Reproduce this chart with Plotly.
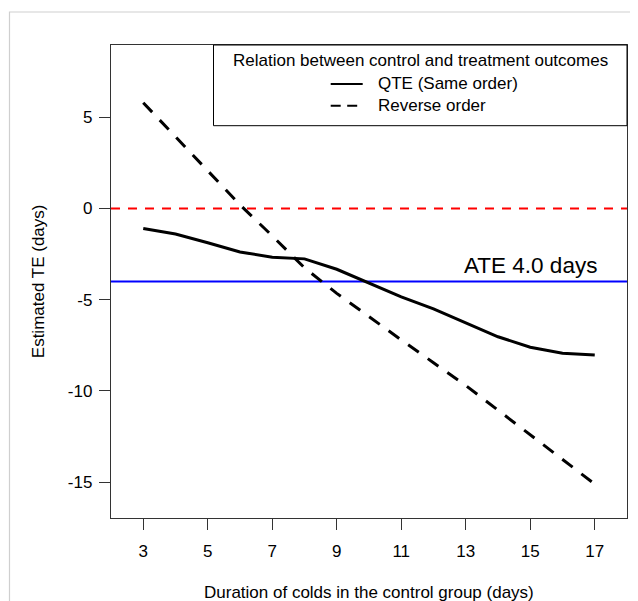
import plotly.graph_objects as go

# ---- data ----
duration = [3, 4, 5, 6, 7, 8, 9, 10, 11, 12, 13, 14, 15, 16, 17]
qte_same_order = [-1.10, -1.40, -1.88, -2.38, -2.67, -2.76, -3.33, -4.09,
                  -4.84, -5.50, -6.25, -7.03, -7.60, -7.93, -8.03]
reverse_order = [5.80, 3.95, 2.10, 0.20, -1.50, -3.25, -4.65, -5.95,
                 -7.20, -8.45, -9.70, -11.05, -12.40, -13.75, -15.10]
zero_line = 0
ate = -4.0
ate_label = "ATE 4.0 days"
x_ticks = [3, 5, 7, 9, 11, 13, 15, 17]
y_ticks = [-15, -10, -5, 0, 5]
legend_title = "Relation between control and treatment outcomes"
legend_labels = ["QTE (Same order)", "Reverse order"]

FONT = "Liberation Sans, Arial, Helvetica, sans-serif"
OFF = 8  # page body margin: figure is drawn at (8, 8) in the window
W, H = 638 - OFF, 601 - OFF
ML, MR, MT, MB = 111 - OFF, 11, 45 - OFF, 83
PW, PH = W - ML - MR, H - MT - MB


def px(xp):
    """window x pixel -> paper coordinate"""
    return (xp - OFF - ML) / PW


def py(yp):
    """window y pixel -> paper coordinate"""
    return (H - MB - (yp - OFF)) / PH


fig = go.Figure()

fig.add_trace(go.Scatter(x=[2, 18], y=[zero_line, zero_line], mode="lines",
                         line=dict(color="#ff0000", width=2, dash="9px,8px"),
                         showlegend=False, hoverinfo="skip"))
fig.add_trace(go.Scatter(x=[2, 18], y=[ate, ate], mode="lines",
                         line=dict(color="#0000ff", width=2),
                         showlegend=False, hoverinfo="skip"))
fig.add_trace(go.Scatter(x=duration, y=qte_same_order, mode="lines",
                         name=legend_labels[0],
                         line=dict(color="black", width=3)))
fig.add_trace(go.Scatter(x=duration, y=reverse_order, mode="lines",
                         name=legend_labels[1],
                         line=dict(color="black", width=3, dash="13px,11px")))

shapes = [
    # outer light frame
    dict(type="rect", xref="paper", yref="paper", x0=px(9.5), x1=px(700),
         y0=py(700), y1=py(12), line=dict(color="#cfcfcf", width=1.2),
         layer="below"),
    # legend box
    dict(type="rect", xref="paper", yref="paper", x0=px(213.5), x1=1,
         y0=py(125.7), y1=1, line=dict(color="black", width=1),
         fillcolor="white", layer="above"),
    # legend samples
    dict(type="line", xref="paper", yref="paper", x0=px(330.7), x1=px(362.7),
         y0=py(84), y1=py(84), line=dict(color="black", width=2),
         layer="above"),
    dict(type="line", xref="paper", yref="paper", x0=px(330.7), x1=px(362.7),
         y0=py(105.7), y1=py(105.7),
         line=dict(color="black", width=2, dash="10px,6.5px"), layer="above"),
]

annotations = [
    dict(text=legend_title, xref="paper", yref="paper", x=px(420.8),
         y=py(60.0), xanchor="center", yanchor="middle", showarrow=False,
         font=dict(size=17, color="black", family=FONT)),
    dict(text=legend_labels[0], xref="paper", yref="paper", x=px(375.7),
         y=py(83.3), xanchor="left", yanchor="middle", showarrow=False,
         font=dict(size=17, color="black", family=FONT)),
    dict(text=legend_labels[1], xref="paper", yref="paper", x=px(375.7),
         y=py(105.3), xanchor="left", yanchor="middle", showarrow=False,
         font=dict(size=17, color="black", family=FONT)),
    dict(text=ate_label, x=15, y=ate, xref="x", yref="y", xanchor="center",
         yanchor="middle", yshift=281.7 - 265.7, showarrow=False,
         font=dict(size=22.5, color="black", family=FONT)),
    dict(text="Duration of colds in the control group (days)", xref="paper",
         yref="paper", x=0.5, y=py(592), xanchor="center", yanchor="middle",
         showarrow=False, font=dict(size=17, color="black", family=FONT)),
    dict(text="Estimated TE (days)", xref="paper", yref="paper", x=px(38.7),
         y=0.5, xanchor="center", yanchor="middle", textangle=-90,
         showarrow=False, font=dict(size=17, color="black", family=FONT)),
]

fig.update_layout(
    width=W, height=H,
    margin=dict(l=ML, r=MR, t=MT, b=MB, autoexpand=False),
    paper_bgcolor="white", plot_bgcolor="white",
    showlegend=False,
    font=dict(family=FONT, size=17, color="black"),
    shapes=shapes, annotations=annotations,
    xaxis=dict(range=[2, 18], tickvals=x_ticks, ticktext=[str(v) for v in x_ticks],
               showgrid=False, zeroline=False, showline=True, mirror=True,
               linecolor="#333333", linewidth=1.3, ticks="outside", ticklen=11,
               tickwidth=1, tickcolor="#333333", ticklabelstandoff=6,
               tickfont=dict(size=17, color="black", family=FONT)),
    yaxis=dict(range=[-16.96, 8.96], tickvals=y_ticks, ticktext=[str(v) for v in y_ticks],
               showgrid=False, zeroline=False, showline=True, mirror=True,
               linecolor="#333333", linewidth=1.3, ticks="outside", ticklen=11,
               tickwidth=1, tickcolor="#333333", ticklabelstandoff=3,
               tickfont=dict(size=17, color="black", family=FONT)),
)

fig.write_html("out.html")
